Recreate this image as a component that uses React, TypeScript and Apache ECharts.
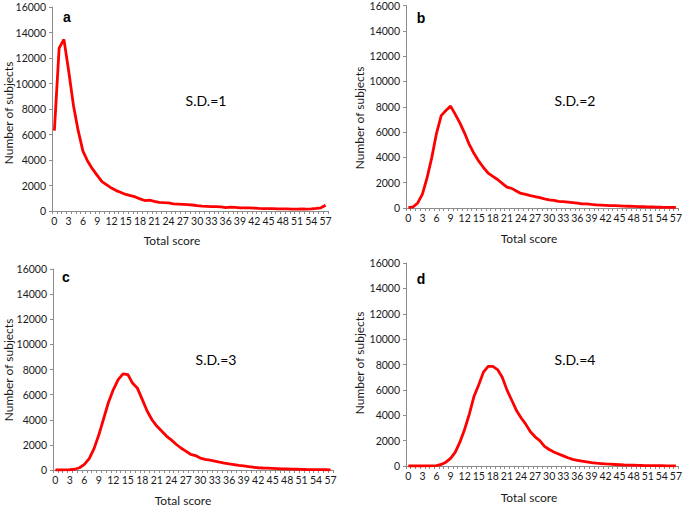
import React, { useEffect, useRef } from "react";
import * as echarts from "echarts";

const scores = [
  "0", "1", "2", "3", "4", "5", "6", "7", "8", "9", "10", "11", "12", "13", "14", "15", "16", "17", "18", "19",
  "20", "21", "22", "23", "24", "25", "26", "27", "28", "29", "30", "31", "32", "33", "34", "35", "36", "37", "38", "39",
  "40", "41", "42", "43", "44", "45", "46", "47", "48", "49", "50", "51", "52", "53", "54", "55", "56", "57",
];

const sd1 = [
  6300, 12780, 13460, 11000, 8300, 6300, 4700, 3900, 3300, 2800,
  2300, 2050, 1800, 1600, 1450, 1300, 1200, 1100, 950, 820,
  850, 760, 680, 650, 630, 560, 540, 520, 500, 470,
  420, 380, 370, 350, 340, 320, 260, 300, 280, 250,
  240, 240, 230, 200, 190, 180, 180, 170, 170, 160,
  150, 150, 160, 140, 160, 200, 250, 450,
];

const sd2 = [
  30, 80, 400, 1100, 2400, 4000, 5900, 7300, 7700, 8050,
  7400, 6700, 5900, 5000, 4300, 3700, 3200, 2750, 2500, 2250,
  1950, 1650, 1550, 1350, 1150, 1080, 980, 900, 820, 720,
  650, 600, 530, 500, 460, 420, 380, 330, 320, 280,
  250, 230, 210, 190, 180, 170, 150, 140, 130, 110,
  100, 90, 80, 70, 60, 55, 50, 50,
];

const sd3 = [
  0, 0, 10, 20, 60, 180, 450, 900, 1700, 2800,
  4100, 5400, 6400, 7200, 7650, 7600, 6900, 6500, 5600, 4700,
  4000, 3500, 3100, 2700, 2400, 2050, 1750, 1500, 1250, 1150,
  950, 850, 780, 700, 620, 550, 480, 420, 360, 320,
  270, 220, 180, 160, 150, 130, 110, 90, 80, 70,
  60, 50, 40, 35, 30, 25, 20, 15,
];

const sd4 = [
  0, 0, 0, 0, 5, 10, 30, 120, 300, 600,
  1100, 1900, 2900, 4100, 5500, 6400, 7400, 7850, 7850, 7600,
  7000, 6000, 5200, 4400, 3800, 3300, 2700, 2300, 2000, 1550,
  1300, 1100, 950, 800, 650, 520, 450, 380, 320, 260,
  220, 190, 160, 140, 120, 100, 80, 70, 60, 50,
  40, 35, 30, 25, 20, 15, 10, 10,
];

const panelLetters = ["a", "b", "c", "d"];
const sdLabels = ["S.D.=1", "S.D.=2", "S.D.=3", "S.D.=4"];
const xTitle = "Total score";
const yTitle = "Number of subjects";

const FONT = "Lato, 'Open Sans', sans-serif";

export default function App() {
  const ref = useRef<HTMLDivElement>(null);

  useEffect(() => {
    if (!ref.current) return;
    const chart = echarts.init(ref.current, undefined, { renderer: "svg" });

    const grids = [
      { left: 52, top: 7, width: 276, height: 204 },
      { left: 406, top: 5, width: 273, height: 203 },
      { left: 53, top: 269, width: 280, height: 201 },
      { left: 406, top: 263, width: 275, height: 203 },
    ];
    const seriesData = [sd1, sd2, sd3, sd4];

    const axisColor = "#8c8c8c";

    const xAxes = grids.map((_, i) => ({
      type: "category",
      gridIndex: i,
      data: scores,
      boundaryGap: true,
      axisLine: { lineStyle: { color: axisColor, width: 1 } },
      axisTick: { show: true, length: 3, interval: 0, lineStyle: { color: axisColor } },
      axisLabel: {
        interval: 2,
        fontFamily: FONT,
        fontSize: 10.5,
        color: "#1a1a1a",
        margin: 4,
      },
      splitLine: { show: false },
    }));

    const yAxes = grids.map((_, i) => ({
      type: "value",
      gridIndex: i,
      min: 0,
      max: 16000,
      interval: 2000,
      axisLine: { show: true, lineStyle: { color: axisColor, width: 1 } },
      axisTick: { show: true, length: 3, lineStyle: { color: axisColor } },
      axisLabel: {
        fontFamily: FONT,
        fontSize: 10.5,
        color: "#1a1a1a",
        margin: 6,
        formatter: (v: number) => String(v),
      },
      splitLine: { show: false },
    }));

    const series = seriesData.map((d, i) => ({
      type: "line",
      xAxisIndex: i,
      yAxisIndex: i,
      data: d,
      showSymbol: false,
      symbol: "none",
      lineStyle: { color: "#ff0000", width: 2.8 },
      itemStyle: { color: "#ff0000" },
    }));

    const letterPos = [
      [67, 17],
      [421, 18],
      [66, 277],
      [421, 279],
    ];
    const sdPos = [
      [206, 100],
      [575, 100],
      [216, 359],
      [575, 359],
    ];
    const xTitlePos = [
      [172, 240],
      [529, 238],
      [183, 500],
      [529, 497],
    ];
    const yTitlePos = [
      [8, 113],
      [359, 118],
      [8, 370],
      [359, 363],
    ];

    const graphic: any[] = [];
    for (let i = 0; i < 4; i++) {
      graphic.push({
        type: "text",
        x: letterPos[i][0],
        y: letterPos[i][1],
        style: {
          text: panelLetters[i],
          font: "bold 14px 'Liberation Sans', Arial, sans-serif",
          fill: "#000",
          align: "center",
          verticalAlign: "middle",
        },
      });
      graphic.push({
        type: "text",
        x: sdPos[i][0],
        y: sdPos[i][1],
        style: {
          text: sdLabels[i],
          font: `14px ${FONT}`,
          fill: "#000",
          align: "center",
          verticalAlign: "middle",
        },
      });
      graphic.push({
        type: "text",
        x: xTitlePos[i][0],
        y: xTitlePos[i][1],
        style: {
          text: xTitle,
          font: `12px ${FONT}`,
          fill: "#1a1a1a",
          align: "center",
          verticalAlign: "middle",
        },
      });
      graphic.push({
        type: "text",
        x: yTitlePos[i][0],
        y: yTitlePos[i][1],
        rotation: Math.PI / 2,
        style: {
          text: yTitle,
          font: `12px ${FONT}`,
          fill: "#1a1a1a",
          align: "center",
          verticalAlign: "middle",
        },
      });
    }

    chart.setOption({
      animation: false,
      backgroundColor: "#ffffff",
      grid: grids.map((g) => ({ ...g, containLabel: false })),
      xAxis: xAxes,
      yAxis: yAxes,
      series,
      graphic,
    });

    return () => chart.dispose();
  }, []);

  return (
    <div
      ref={ref}
      style={{ position: "fixed", left: 0, top: 0, width: 685, height: 506 }}
    />
  );
}
